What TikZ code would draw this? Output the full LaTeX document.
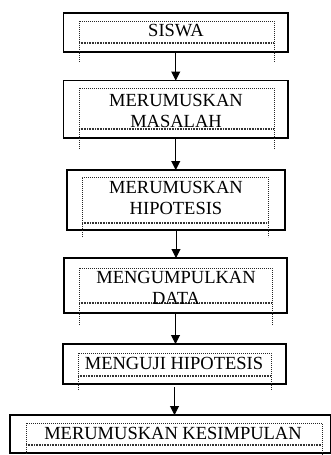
\documentclass[tikz,border=0pt]{standalone}
\usepackage{fontspec}
\setmainfont{Liberation Serif}
\usetikzlibrary{arrows.meta}
\tikzset{
  outerbox/.style={draw=black, line width=1.2pt, inner sep=0pt, outer sep=0pt},
  lbl/.style={font={\fontsize{18.5}{21}\selectfont}, inner sep=0pt, align=center, anchor=base},
  arr/.style={draw=black, line width=1pt, -{Triangle[width=9pt,length=9pt]}},
  dotline/.style={draw=black!85, line width=0.8pt, dash pattern=on 0.8pt off 1.2pt},
  dotbottom/.style={draw=black!80, line width=1.6pt, dash pattern=on 0.9pt off 0.7pt}
}
\newcommand{\dottedframe}[5]{%
  \draw[dotline] (#1,#5) -- (#1,#2) -- (#3,#2) -- (#3,#5);
  \draw[dotbottom] (#1,#4) -- (#3,#4);
}
\begin{document}
\begin{tikzpicture}[x=1pt,y=-1pt]
\useasboundingbox (0,0) rectangle (330,455);
% outer boxes
\node[outerbox, minimum width=224.5pt, minimum height=39pt] (b1) at (175.75,32.5) {};
\node[outerbox, minimum width=224.5pt, minimum height=57.5pt] (b2) at (175.75,109.25) {};
\node[outerbox, minimum width=218pt, minimum height=60pt] (b3) at (176,200) {};
\node[outerbox, minimum width=223pt, minimum height=55pt] (b4) at (175.5,285.5) {};
\node[outerbox, minimum width=223pt, minimum height=40pt] (b5) at (174.5,364) {};
\node[outerbox, minimum width=321pt, minimum height=38pt] (b6) at (170.5,434) {};
% inner dotted frames
\dottedframe{79}{21}{274}{43}{62}
\dottedframe{79}{88}{274}{129}{149}
\dottedframe{82}{177}{268}{223}{237}
\dottedframe{79}{268}{272}{303}{325}
\dottedframe{78}{353}{271}{376}{390}
\dottedframe{26}{423}{322}{445}{460}
% labels (anchor base = baseline of last line)
\node[lbl] (t1) at (176,36) {SISWA};
\node[lbl] (t2) at (176,127) {MERUMUSKAN\\MASALAH};
\node[lbl] (t3) at (176,214) {MERUMUSKAN\\HIPOTESIS};
\node[lbl] (t4) at (176,304) {MENGUMPULKAN\\DATA};
\node[lbl] (t5) at (174,369) {MENGUJI HIPOTESIS};
\node[lbl] (t6) at (173,439) {MERUMUSKAN KESIMPULAN};
% arrows
\draw[arr] (b1.south) -- (b1.south |- b2.north);
\draw[arr] (b2.south) -- (b2.south |- b3.north);
\draw[arr] (b3.south) -- (b3.south |- b4.north);
\draw[arr] (b4.south) -- (b4.south |- b5.north);
\draw[arr] ([yshift=-3pt]b5.south) -- (b5.south |- b6.north);
\end{tikzpicture}
\end{document}
